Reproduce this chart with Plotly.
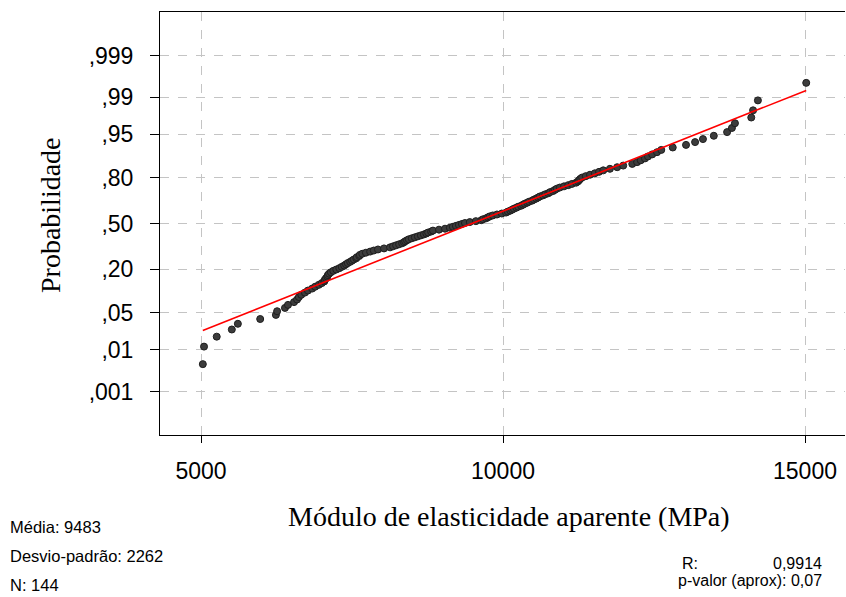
import plotly.graph_objects as go
from statistics import NormalDist

# Sorted sample values (MPa)
modulo = [
    5030, 5050, 5260, 5510, 5610, 5980, 6240, 6260, 6390, 6440,
    6540, 6590, 6620, 6660, 6720, 6770, 6840, 6890, 6950, 7000,
    7040, 7050, 7070, 7090, 7100, 7120, 7150, 7190, 7240, 7290,
    7330, 7370, 7400, 7430, 7470, 7500, 7530, 7570, 7580, 7620,
    7630, 7670, 7730, 7800, 7860, 7930, 8030, 8130, 8180, 8230,
    8280, 8330, 8360, 8380, 8410, 8440, 8490, 8540, 8590, 8640,
    8690, 8730, 8760, 8810, 8840, 8940, 9040, 9120, 9170, 9220,
    9270, 9320, 9370, 9450, 9550, 9640, 9670, 9720, 9750, 9780,
    9830, 9900, 9980, 10050, 10080, 10120, 10150, 10180, 10220, 10250,
    10300, 10330, 10360, 10400, 10430, 10480, 10510, 10550, 10580, 10610,
    10660, 10700, 10750, 10780, 10830, 10860, 10890, 10940, 11010, 11080,
    11140, 11210, 11240, 11260, 11280, 11310, 11370, 11440, 11520, 11590,
    11660, 11770, 11890, 11990, 12140, 12220, 12280, 12350, 12400, 12470,
    12550, 12620, 12810, 13030, 13180, 13310, 13490, 13710, 13790, 13840,
    14110, 14140, 14220, 15020,
]

media = 9483
desvio = 2262
r_valor = "0,9914"
p_valor = "0,07"

prob_ticks = [0.001, 0.01, 0.05, 0.20, 0.50, 0.80, 0.95, 0.99, 0.999]
prob_labels = [",001", ",01", ",05", ",20", ",50", ",80", ",95", ",99", ",999"]
x_ticks = [5000, 10000, 15000]

nd = NormalDist()
n = len(modulo)
xs = sorted(modulo)
# Median-rank (Benard) plotting positions on a normal-quantile scale
zs = [nd.inv_cdf((i - 0.3) / (n + 0.4)) for i in range(1, n + 1)]
z_ticks = [nd.inv_cdf(p) for p in prob_ticks]

line_x = [min(xs), max(xs)]
line_z = [(v - media) / desvio for v in line_x]

fig = go.Figure()
fig.add_trace(go.Scatter(
    x=xs, y=zs, mode="markers",
    marker=dict(size=7, color="#3c3c3c", line=dict(width=1, color="#1e1e1e")),
    showlegend=False, hoverinfo="x+y",
))
fig.add_trace(go.Scatter(
    x=line_x, y=line_z, mode="lines",
    line=dict(color="#ff0000", width=1.6),
    showlegend=False,
))

grid = dict(showgrid=True, gridcolor="#c4c4c4", gridwidth=1, griddash="dash")
fig.update_xaxes(
    range=[4321, 15662], tickvals=x_ticks, ticktext=[str(v) for v in x_ticks],
    ticks="outside", ticklen=7, tickcolor="black", tickwidth=1,
    showline=True, linecolor="black", linewidth=1, mirror=True,
    zeroline=False, ticklabelstandoff=8,
    tickfont=dict(family="Liberation Sans, Arial", size=23, color="black"),
    **grid,
)
fig.update_yaxes(
    range=[-3.89, 3.89], tickvals=z_ticks, ticktext=prob_labels,
    ticks="outside", ticklen=9, tickcolor="black", tickwidth=1,
    showline=True, linecolor="black", linewidth=1,
    zeroline=False, ticklabelstandoff=12,
    tickfont=dict(family="Liberation Sans, Arial", size=23, color="black"),
    **grid,
)

W, H = 846, 597
L, R, T, B = 160, 1, 12, 162
pw, ph = W - L - R, H - T - B

def px(xp):
    return (xp - L) / pw

def py(yp):
    return (H - B - yp) / ph

annots = [
    dict(text="Módulo de elasticidade aparente (MPa)", x=px(509), y=py(516),
         xanchor="center", yanchor="middle",
         font=dict(family="Liberation Serif, Times New Roman", size=28, color="black")),
    dict(text="Probabilidade", x=px(50), y=py(215), textangle=-90,
         xanchor="center", yanchor="middle",
         font=dict(family="Liberation Serif, Times New Roman", size=28, color="black")),
    dict(text=f"Média: {media}", x=px(8), y=py(527), xanchor="left", yanchor="middle",
         font=dict(family="Liberation Sans, Arial", size=16.5, color="black")),
    dict(text=f"Desvio-padrão: {desvio}", x=px(8), y=py(556), xanchor="left", yanchor="middle",
         font=dict(family="Liberation Sans, Arial", size=16.5, color="black")),
    dict(text=f"N: {n}", x=px(8), y=py(585), xanchor="left", yanchor="middle",
         font=dict(family="Liberation Sans, Arial", size=16.5, color="black")),
    dict(text="R:", x=px(680), y=py(563), xanchor="left", yanchor="middle",
         font=dict(family="Liberation Sans, Arial", size=16, color="black")),
    dict(text=r_valor, x=px(824), y=py(563), xanchor="right", yanchor="middle",
         font=dict(family="Liberation Sans, Arial", size=16, color="black")),
    dict(text=f"p-valor (aprox): {p_valor}", x=px(824), y=py(580), xanchor="right", yanchor="middle",
         font=dict(family="Liberation Sans, Arial", size=16, color="black")),
]
for a in annots:
    a.update(xref="paper", yref="paper", showarrow=False)

fig.update_layout(
    width=W, height=H,
    margin=dict(l=L, r=R, t=T, b=B),
    paper_bgcolor="white", plot_bgcolor="white",
    annotations=annots,
)

fig.write_html("out.html")
